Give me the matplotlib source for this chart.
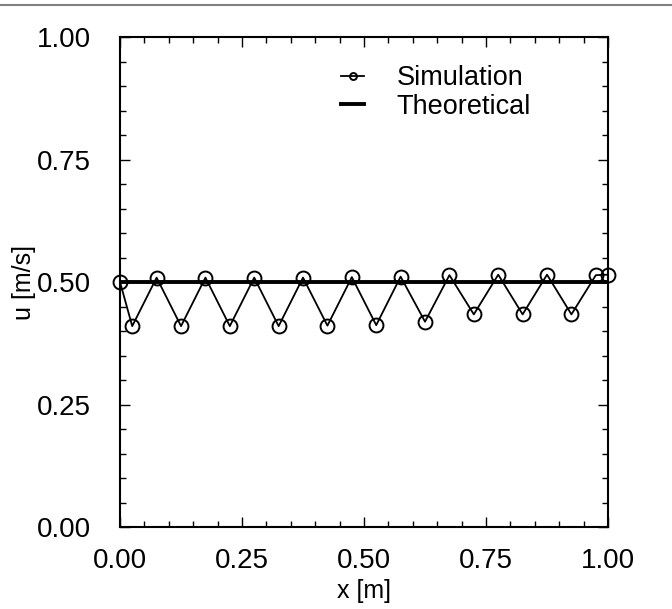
import matplotlib.pyplot as plt
from matplotlib.lines import Line2D
from matplotlib.ticker import MultipleLocator

# Data
x_sim = [0.0, 0.025, 0.075, 0.125, 0.175, 0.225, 0.275, 0.325, 0.375, 0.425, 0.475,
         0.525, 0.575, 0.625, 0.675, 0.725, 0.775, 0.825, 0.875, 0.925, 0.975, 1.0]
u_sim = [0.500, 0.410, 0.509, 0.410, 0.509, 0.410, 0.509, 0.410, 0.509, 0.411, 0.510,
         0.412, 0.511, 0.419, 0.514, 0.434, 0.515, 0.434, 0.515, 0.434, 0.514, 0.515]
x_theory = [0.0, 1.0]
u_theory = [0.5, 0.5]

plt.rcParams['font.family'] = ['Liberation Sans', 'DejaVu Sans']

fig = plt.figure(figsize=(6.72, 6.09), dpi=100)
ax = fig.add_axes([0.1786, 0.1346, 0.7262, 0.8046])

# Theoretical and simulated velocity
ax.plot(x_theory, u_theory, color='black', lw=2.8, label='Theoretical', zorder=2)
ax.plot(x_sim, u_sim, color='black', lw=1.3, marker='o', ms=10, mfc='none',
        mec='black', mew=1.4, label='Simulation', clip_on=False, zorder=3)

ax.set_xlim(0, 1)
ax.set_ylim(0, 1)
ax.xaxis.set_major_locator(MultipleLocator(0.25))
ax.yaxis.set_major_locator(MultipleLocator(0.25))
ax.xaxis.set_minor_locator(MultipleLocator(0.05))
ax.yaxis.set_minor_locator(MultipleLocator(0.05))
ax.xaxis.set_major_formatter(lambda v, p: f"{v:.2f}")
ax.yaxis.set_major_formatter(lambda v, p: f"{v:.2f}")
ax.tick_params(which='both', direction='in', top=True, right=True, labelsize=20, width=1)
ax.tick_params(which='major', length=7)
ax.tick_params(which='minor', length=4)
ax.tick_params(axis='x', which='major', pad=15)
ax.tick_params(axis='y', which='major', pad=21)
for s in ax.spines.values():
    s.set_linewidth(1.5)

ax.set_xlabel('x [m]', fontsize=18, va='center')
ax.xaxis.set_label_coords(0.5, -0.131)
ax.set_ylabel('u [m/s]', fontsize=18, va='center')
ax.yaxis.set_label_coords(-0.197, 0.5)

handles, labels = ax.get_legend_handles_labels()
ax.legend(handles[::-1], labels[::-1], loc='upper left', bbox_to_anchor=(0.453, 0.942),
          frameon=False, fontsize=19.5, markerscale=0.5, handlelength=0.85,
          handletextpad=1.2, labelspacing=0.08, borderpad=0, borderaxespad=0)

# gray rule at the top of the picture
fig.add_artist(Line2D([0, 1], [0.992, 0.992], color='gray', lw=1.5))

plt.savefig('out.png', dpi=100)
